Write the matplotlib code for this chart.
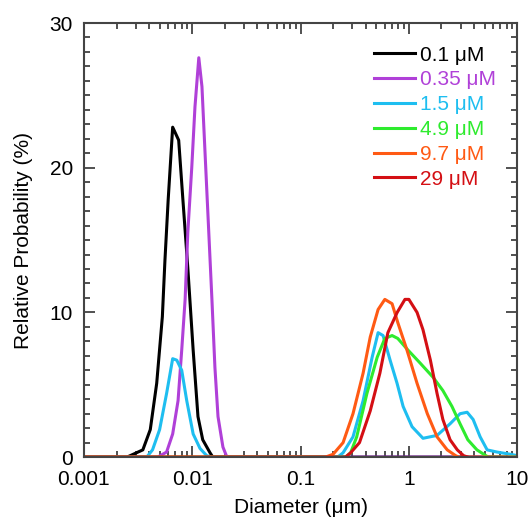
import numpy as np
import matplotlib.pyplot as plt
from matplotlib.ticker import FixedLocator, NullFormatter, MultipleLocator

plt.rcParams['font.family'] = ['Liberation Sans', 'DejaVu Sans']

# diameters (um) and relative probability (%)
d_01 = [0.001, 0.0025, 0.0035, 0.0041, 0.0047, 0.0053, 0.0056, 0.0060, 0.0066,
        0.0075, 0.0082, 0.0091, 0.0102, 0.0113, 0.0125, 0.0146, 0.0155, 10]
p_01 = [0, 0, 0.5, 1.9, 5.1, 9.7, 13.6, 17.8, 22.8,
        21.9, 17.8, 13.1, 7.4, 2.8, 1.2, 0.3, 0, 0]

d_035 = [0.001, 0.0048, 0.0058, 0.0066, 0.0074, 0.0080, 0.0086, 0.0091, 0.0099,
         0.0106, 0.0115, 0.0123, 0.0131, 0.0140, 0.0152, 0.0162, 0.0173, 0.0192,
         0.0209, 10]
p_035 = [0, 0, 0.35, 1.6, 3.9, 7.4, 10.9, 15.5, 20.0,
         24.2, 27.6, 25.6, 21.2, 16.6, 10.9, 6.2, 2.8, 0.7,
         0, 0]

d_15 = [0.001, 0.0038, 0.0043, 0.0050, 0.0058, 0.0066, 0.0072, 0.0080, 0.0089,
        0.0102, 0.0118, 0.0136, 0.015, 0.22, 0.247, 0.305, 0.378, 0.458, 0.52,
        0.578, 0.671, 0.778, 0.885, 1.07, 1.35, 1.82, 2.4, 2.97, 3.45, 3.92,
        4.55, 5.28, 6.5, 8.6, 10]
p_15 = [0, 0, 0.5, 1.9, 4.4, 6.8, 6.7, 6.0, 3.9,
        1.6, 0.6, 0.1, 0, 0, 0.3, 1.4, 3.9, 6.9, 8.6,
        8.4, 6.7, 5.1, 3.5, 2.1, 1.3, 1.5, 2.3, 3.0, 3.1, 2.6,
        1.4, 0.5, 0.35, 0.2, 0.1]

d_49 = [0.001, 0.26, 0.29, 0.33, 0.41, 0.51, 0.60, 0.70, 0.79, 0.98, 1.27,
        1.68, 2.06, 2.5, 2.97, 3.5, 4.25, 4.9, 5.4, 10]
p_49 = [0, 0, 0.3, 1.4, 4.4, 6.9, 8.2, 8.4, 8.2, 7.4, 6.5,
        5.5, 4.6, 3.5, 2.3, 1.2, 0.5, 0.2, 0, 0]

d_97 = [0.001, 0.17, 0.20, 0.247, 0.305, 0.378, 0.44, 0.52, 0.60, 0.70, 0.79,
        0.96, 1.19, 1.48, 1.82, 2.26, 2.7, 2.9, 10]
p_97 = [0, 0, 0.2, 1.0, 3.0, 5.8, 8.3, 10.2, 10.9, 10.6, 9.3,
        7.4, 5.1, 3.0, 1.4, 0.5, 0.1, 0, 0]

d_29 = [0.001, 0.26, 0.29, 0.35, 0.44, 0.54, 0.64, 0.78, 0.92, 1.0, 1.19,
        1.35, 1.58, 1.82, 2.06, 2.4, 2.8, 3.2, 3.5]
p_29 = [0, 0, 0.3, 1.0, 3.2, 5.8, 8.6, 10.0, 10.9, 10.9, 10.0,
        8.8, 6.7, 4.4, 2.6, 1.2, 0.5, 0.1, 0]

series = [
    (d_01, p_01, '0.1 μM', 'black'),
    (d_035, p_035, '0.35 μM', '#B040D8'),
    (d_15, p_15, '1.5 μM', '#1EBEF0'),
    (d_49, p_49, '4.9 μM', '#2EEB2E'),
    (d_97, p_97, '9.7 μM', '#FF5A14'),
    (d_29, p_29, '29 μM', '#D40F14'),
]

fig = plt.figure(figsize=(5.31, 5.23), dpi=100)
ax = fig.add_axes([0.158, 0.126, 0.816, 0.830])

for d, p, lab, col in series:
    ax.plot(d, p, color=col, lw=2.2, label=lab)

ax.set_xscale('log')
ax.set_xlim(0.001, 10)
ax.set_ylim(0, 30)
ax.set_xticks([0.001, 0.01, 0.1, 1, 10])
ax.set_xticklabels(['0.001', '0.01', '0.1', '1', '10'])
ax.xaxis.set_minor_locator(FixedLocator(
    [m * 10.0 ** e for e in range(-3, 1) for m in range(2, 10)]))
ax.xaxis.set_minor_formatter(NullFormatter())
ax.yaxis.set_major_locator(MultipleLocator(10))
ax.yaxis.set_minor_locator(MultipleLocator(1))

ax.tick_params(which='both', direction='in', top=True, right=True,
               width=1.2, color='#333333')
ax.tick_params(which='major', length=8, labelsize=15)
ax.tick_params(axis='x', which='major', pad=9)
ax.tick_params(axis='y', which='major', pad=8)
ax.tick_params(which='minor', length=4)
for s in ax.spines.values():
    s.set_linewidth(1.5)
    s.set_color('#444444')

ax.set_xlabel('Diameter (μm)', fontsize=15, labelpad=7)
ax.set_ylabel('Relative Probability (%)', fontsize=15, labelpad=12)

leg = ax.legend(loc='upper left', bbox_to_anchor=(0.645, 0.972), frameon=False,
                fontsize=15, borderpad=0, handlelength=2.0, handletextpad=0.2,
                labelspacing=0.28)
for txt, (_, _, _, col) in zip(leg.get_texts(), series):
    txt.set_color(col)

fig.savefig('out.png', dpi=100)
